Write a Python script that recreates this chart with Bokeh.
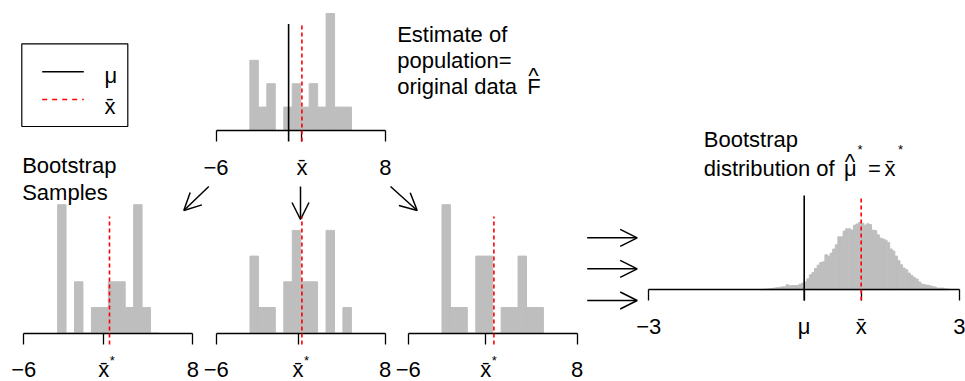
from bokeh.plotting import figure
from bokeh.models import Range1d, LinearAxis, FixedTicker, Arrow, OpenHead
from bokeh.core.properties import value
from bokeh.embed import file_html
from bokeh.resources import INLINE

# ---------------- data ----------------
mu = 0.0
xbar = 1.1
hist_edges = [-3.2, -2.5, -1.8, -1.1, -0.4, 0.3, 1.0, 1.7, 2.4, 3.1, 3.8, 4.5, 5.2]
orig_counts = [3, 1, 2, 0, 1, 2, 1, 2, 1, 5, 1, 1]
boot_counts = [
    [5, 0, 2, 0, 1, 1, 2, 2, 1, 5, 1, 0],
    [3, 1, 1, 0, 2, 4, 2, 2, 0, 4, 0, 1],
    [5, 1, 1, 0, 3, 3, 0, 1, 1, 3, 1, 1],
]
boot_means = [0.63, 0.78, 0.43]
small_ticks = [-6, 8]
small_tick_labels = ["\u22126", "8"]

dist_width = 0.05
dist_left = [round(-0.85 + dist_width * i, 2) for i in range(73)]
dist_counts = [2, 3, 4, 5, 7, 9, 11, 12, 16, 16,
               27, 22, 23, 23, 23, 30, 36, 43, 59, 81,
               93, 115, 133, 147, 151, 189, 182, 198, 220, 243,
               286, 286, 317, 329, 329, 322, 349, 355, 363, 360,
               349, 356, 353, 322, 320, 297, 279, 274, 268, 255,
               220, 209, 182, 157, 135, 117, 108, 90, 77, 66,
               58, 42, 31, 27, 25, 22, 18, 15, 9, 9, 9, 5, 4]
big_ticks = [-3, 3]
big_tick_labels = ["\u22123", "3"]

# ---------------- figure ----------------
W, H = 965, 381
FONT = "Liberation Sans"
FS = "22px"
GRAY = "#BEBEBE"

p = figure(width=W, height=H, x_range=Range1d(0, W), y_range=Range1d(H, 0),
           output_backend="svg", toolbar_location=None, min_border=0,
           x_axis_type=None, y_axis_type=None, outline_line_color=None)
p.grid.visible = False

# panel placement: (value at anchor, anchor px, px per unit, baseline px, px per count)
panels = {
    "top": (-6, 215.5, 12.1, 130.0, 23.4),
    "b1": (-6, 23.3, 12.07, 332.7, 25.7),
    "b2": (-6, 215.7, 12.07, 332.7, 25.7),
    "b3": (-6, 407.7, 12.07, 332.7, 25.7),
    "big": (-3, 648.3, 51.8, 289.3, 1 / 5.4),
}
xr, yr = {}, {}
for name, (av, apx, sx, bpx, sy) in panels.items():
    xr[name] = Range1d(av - apx / sx, av + (W - apx) / sx)
    yr[name] = Range1d(-(H - bpx) / sy, bpx / sy)
p.extra_x_ranges = xr
p.extra_y_ranges = yr


def add_axis(name, lo, hi, ticks, labels):
    ax = LinearAxis(x_range_name=name, y_range_name=name, fixed_location=0, bounds=(lo, hi),
                    ticker=FixedTicker(ticks=ticks, minor_ticks=[]),
                    major_label_overrides=dict(zip(ticks, labels)),
                    major_tick_out=11, major_tick_in=0, minor_tick_out=0, minor_tick_in=0,
                    axis_line_color="black", axis_line_width=1.3,
                    major_tick_line_color="black", major_tick_line_width=1.3,
                    major_label_text_font=FONT, major_label_text_font_size=FS,
                    major_label_text_color="black", major_label_standoff=13)
    p.add_layout(ax, "below")


def vline(name, xv, lo, hi, color, dash):
    r = p.segment(x0=[xv], y0=[lo], x1=[xv], y1=[hi], line_color=color, line_width=1.6,
                  line_dash=dash, x_range_name=name, y_range_name=name)
    r.level = "overlay"


def hist(name, counts):
    p.quad(left=hist_edges[:-1], right=hist_edges[1:], bottom=0, top=counts,
           fill_color=GRAY, line_color=GRAY, line_width=1, x_range_name=name, y_range_name=name)


# top panel: original data
hist("top", orig_counts)
add_axis("top", -6, 8, [-6, xbar, 8], ["\u22126", "x\u0304", "8"])
vline("top", mu, -0.47, 4.55, "black", "solid")
vline("top", xbar, -0.47, 4.55, "red", "4 3")

# bootstrap samples
for i, name in enumerate(["b1", "b2", "b3"]):
    hist(name, boot_counts[i])
    add_axis(name, -6, 8, [small_ticks[0], boot_means[i], small_ticks[1]],
             [small_tick_labels[0], "x\u0304", small_tick_labels[1]])
    vline(name, xbar, -0.44, 4.54, "red", "4 3")
    p.text(x=[boot_means[i]], y=[0], text=["*"], x_range_name=name, y_range_name=name,
           x_offset=6, y_offset=20, text_font=value(FONT), text_font_size="13px",
           text_baseline="top", text_align="left", text_color="black")

# bootstrap distribution
p.quad(left=dist_left, right=[l + dist_width for l in dist_left], bottom=0, top=dist_counts,
       fill_color=GRAY, line_color=GRAY, line_width=1, x_range_name="big", y_range_name="big")
add_axis("big", -3, 3, [big_ticks[0], mu, xbar, big_ticks[1]],
         [big_tick_labels[0], "\u03bc", "x\u0304", big_tick_labels[1]])
vline("big", mu, -58, 509, "black", "solid")
vline("big", xbar, -58, 509, "red", "4 3")

# ---------------- annotations ----------------
def txt(x, y, s, size=FS, align="left", baseline="alphabetic"):
    p.text(x=[x], y=[y], text=[s], text_font=value(FONT), text_font_size=size,
           text_align=align, text_baseline=baseline, text_color="black")

# legend box
p.quad(left=[21.3], right=[127.3], top=[43.3], bottom=[126], fill_color=None,
       line_color="black", line_width=1.2)
p.segment(x0=[41.7], y0=[71.3], x1=[83.3], y1=[71.3], line_color="black", line_width=1.4)
p.segment(x0=[41.7], y0=[99], x1=[83.3], y1=[99], line_color="red", line_width=1.4, line_dash="5 5")
txt(104, 74.5, "\u03bc")
txt(104, 106, "x\u0304")

txt(21.7, 165, "Bootstrap")
txt(21.7, 191.7, "Samples")

txt(396.7, 33.5, "Estimate of")
txt(396.7, 59.5, "population=")
txt(396.7, 85.5, "original data")
txt(526.7, 85.5, "F")
txt(533, 75, "^", align="center")

txt(703.3, 139, "Bootstrap")
txt(703.3, 168, "distribution of")
txt(843.5, 168, "\u03bc")
txt(849.5, 161, "^", align="center")
txt(857, 149, "*", size="13px")
txt(867.5, 168, "=")
txt(884, 168, "x\u0304")
txt(897.5, 149, "*", size="13px")

# arrows
for (xs, ys, xe, ye) in [(208.3, 186, 183.3, 210), (300, 186, 300, 219), (390, 186, 416.7, 210),
                         (586.7, 237.3, 636.7, 237.3), (586.7, 268.3, 636.7, 268.3),
                         (586.7, 300, 636.7, 300)]:
    p.add_layout(Arrow(end=OpenHead(size=17, line_width=1.5), x_start=xs, y_start=ys,
                       x_end=xe, y_end=ye, line_width=1.5))

open("out.html", "w").write(file_html(p, INLINE))
